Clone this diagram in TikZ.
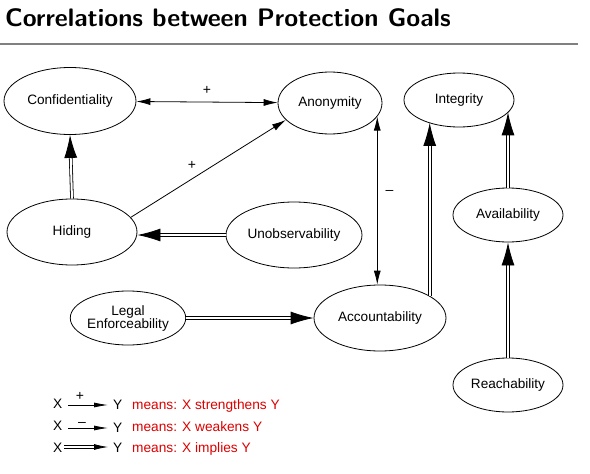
\documentclass[tikz,border=0pt]{standalone}
\usepackage{fontspec}
\setmainfont{Liberation Sans}
\usetikzlibrary{arrows.meta,shapes.geometric}
\definecolor{legred}{RGB}{220,0,0}
\begin{document}
\begin{tikzpicture}[x=1pt,y=-1pt,
  goal/.style={ellipse,draw,line width=0.8pt,inner sep=0pt,align=center,font=\fontsize{13.6}{15}\selectfont},
  lt/.style={inner sep=0pt,font=\fontsize{13.7}{15}\selectfont},
  strg/.style={line width=0.8pt,-{Latex[length=14pt,width=7pt]}},
  both/.style={line width=0.8pt,{Latex[length=14pt,width=7pt]}-{Latex[length=14pt,width=7pt]}},
  implies/.style={line width=0.8pt,double,double distance=2pt,-{Latex[length=23pt,width=13pt]}},
  legstrg/.style={line width=0.8pt,-{Latex[length=14pt,width=5pt]}},
  legimp/.style={line width=0.8pt,double,double distance=2pt,-{Latex[length=14pt,width=6pt]}},
  elabel/.style={inner sep=0pt,font=\fontsize{14}{15}\selectfont}]
\useasboundingbox (0,0) rectangle (590,474);
% title
\node[anchor=base west,inner sep=0pt,font=\fontsize{25.3}{28}\selectfont\sffamily\bfseries] (title) at (5,26) {Correlations between Protection Goals};
\coordinate (rl) at (0,44);
\coordinate (rr) at (578,44);
\draw[gray,line width=1.6pt] (rl) -- (rr);
% nodes
\node[goal,minimum width=132pt,minimum height=67pt] (conf) at (70,101) {Confidentiality};
\node[goal,minimum width=104pt,minimum height=62pt] (ano) at (330,103) {Anonymity};
\node[goal,minimum width=110pt,minimum height=54pt] (int) at (459,100) {Integrity};
\node[goal,minimum width=110pt,minimum height=54pt] (av) at (508,215) {Availability};
\node[goal,minimum width=130pt,minimum height=66pt] (hid) at (72,232) {Hiding};
\node[goal,minimum width=136pt,minimum height=66pt] (unob) at (294,235) {Unobservability};
\node[goal,minimum width=108pt,minimum height=54pt] (leg) at (128,318) {Legal\\[-2pt]Enforceability};
\node[goal,minimum width=132pt,minimum height=66pt] (acc) at (380,318) {Accountability};
\node[goal,minimum width=110pt,minimum height=54pt] (reach) at (508,385) {Reachability};
% edges
\draw[both] (conf) -- node[elabel,above=7pt] {+} (ano);
\draw[strg] (hid.14) -- node[elabel,above left=4pt,pos=0.45] {+} (ano.201);
\draw[both] (ano.-16) -- node[elabel,right=8pt,pos=0.45] {–} (ano.-16 |- acc.north);
\draw[implies] (hid.north) -- (conf.south);
\draw[implies] (unob.west) -- (unob.west -| hid.east);
\draw[implies] (leg.east) -- (acc.west);
\draw[implies] (acc.24) -- (acc.24 |- int.-143);
\draw[implies] (av.north) -- (av.north |- int.-14);
\draw[implies] (reach.north) -- (av.south);
% legend
\node[lt,anchor=base west] (x1) at (53,408) {X};
\node[lt,anchor=base west] (y1) at (113,409) {Y};
\node[lt,anchor=base west,text=legred] (m1) at (132,409) {means: X strengthens Y};
\coordinate (a1s) at (68,405);
\coordinate (a1e) at (108,405);
\draw[legstrg] (a1s) -- node[elabel,above=4pt,pos=0.3] {+} (a1e);
\node[lt,anchor=base west] (x2) at (53,430) {X};
\node[lt,anchor=base west] (y2) at (113,432) {Y};
\node[lt,anchor=base west,text=legred] (m2) at (132,431) {means: X weakens Y};
\coordinate (a2s) at (68,428);
\coordinate (a2e) at (108,428);
\draw[legstrg] (a2s) -- node[elabel,above=1pt,pos=0.35] {–} (a2e);
\node[lt,anchor=base west] (x3) at (53,452) {X};
\node[lt,anchor=base west] (y3) at (113,452) {Y};
\node[lt,anchor=base west,text=legred] (m3) at (132,452) {means: X implies Y};
\coordinate (a3s) at (64,447);
\coordinate (a3e) at (108,447);
\draw[legimp] (a3s) -- (a3e);
\end{tikzpicture}
\end{document}
